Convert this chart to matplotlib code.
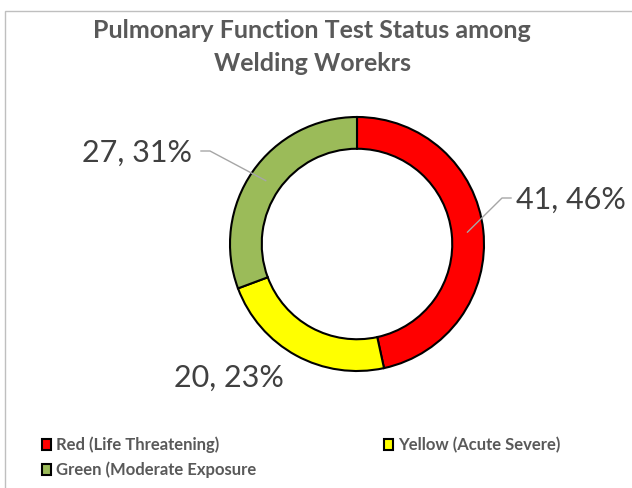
import numpy as np
import matplotlib

matplotlib.use("Agg")
import matplotlib.pyplot as plt  # noqa: E402
from matplotlib.patches import Rectangle  # noqa: E402

CATEGORIES = ["Red (Life Threatening)", "Yellow (Acute Severe)", "Green (Moderate Exposure"]
COUNTS = [41, 20, 27]
PERCENTS = [46, 23, 31]
COLORS = ["#FF0000", "#FFFF00", "#9BBB59"]

TITLE = "Pulmonary Function Test Status among\nWelding Worekrs"
TEXT = "#595959"
LABEL_TEXT = "#404040"
FONT = ["Lato", "DejaVu Sans"]

W, H = 632, 489
fig = plt.figure(figsize=(W / 100, H / 100), dpi=100)
fig.patch.set_facecolor("white")

# chart frame
fig.patches.append(
    Rectangle((5 / W, -0.1), 1.2, 1 - 12 / H + 0.1, transform=fig.transFigure,
              fill=False, edgecolor="#BFBFBF", linewidth=1.0)
)

cx, cy, r = 357, H - 245, 127
ax = fig.add_axes([(cx - r) / W, (cy - r) / H, 2 * r / W, 2 * r / H])
wedges, _ = ax.pie(
    COUNTS,
    colors=COLORS,
    startangle=90,
    counterclock=False,
    radius=1.0,
    wedgeprops=dict(width=0.25, edgecolor="black", linewidth=1.5),
)
ax.set_xlim(-1, 1)
ax.set_ylim(-1, 1)
ax.set_aspect("equal")
ax.axis("off")


def px(x, y):
    return ((x - cx) / r, ((H - y) - cy) / r)


labels = [f"{c}, {p}%" for c, p in zip(COUNTS, PERCENTS)]
label_pos = [(571, 200), (229, 378), (137, 153)]
leaders = [[(502, 199), (511, 199)], None, [(210, 152), (201, 152)]]

for w, lab, pos, lead in zip(wedges, labels, label_pos, leaders):
    ax.text(*px(*pos), lab, ha="center", va="center", fontsize=22,
            color=LABEL_TEXT, family=FONT)
    if lead is None:
        continue
    ang = np.deg2rad((w.theta1 + w.theta2) / 2)
    start = (0.875 * np.cos(ang), 0.875 * np.sin(ang))
    pts = [start] + [px(*p) for p in lead]
    xs, ys = zip(*pts)
    ax.plot(xs, ys, color="#A6A6A6", linewidth=1.0, clip_on=False)

fig.text(312 / W, 1 - 47 / H, TITLE, ha="center", va="center", fontsize=18,
         fontweight="bold", color=TEXT, family=FONT, linespacing=1.5)

legend_pos = [(56, 445), (398, 445), (56, 470)]
for cat, col, (lx, ly) in zip(CATEGORIES, COLORS, legend_pos):
    fig.patches.append(
        Rectangle(((lx - 14) / W, 1 - (ly + 6) / H), 9 / W, 11 / H,
                  transform=fig.transFigure, facecolor=col,
                  edgecolor="black", linewidth=1.5)
    )
    fig.text(lx / W, 1 - ly / H, cat, ha="left", va="center", fontsize=12,
             fontweight="bold", color=TEXT, family=FONT)

fig.savefig("out.png", dpi=100, facecolor=fig.get_facecolor())
